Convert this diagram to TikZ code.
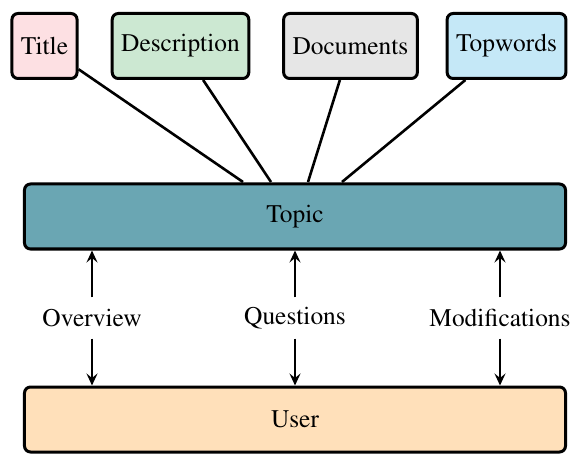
\documentclass[tikz,border=0pt]{standalone}
\usepackage[T1]{fontenc}
\usepackage{times}
\usetikzlibrary{arrows.meta}
\definecolor{cTitle}{HTML}{FDE0E3}
\definecolor{cDesc}{HTML}{CCE8D2}
\definecolor{cDoc}{HTML}{E6E6E6}
\definecolor{cTop}{HTML}{C5E8F7}
\definecolor{cTopic}{HTML}{6AA6B3}
\definecolor{cUser}{HTML}{FFE0BA}
\tikzset{
  tbox/.style={draw, line width=3bp, rounded corners=6bp, minimum height=65bp, inner xsep=9bp, inner ysep=0pt},
  wbox/.style={tbox, minimum width=541bp},
  lab/.style={inner sep=0pt, minimum height=41bp},
  link/.style={draw, line width=2.6bp},
  uarr/.style={draw, line width=2.6bp, -{Stealth[length=12bp,width=11bp,inset=4.5bp]}}
}
\begin{document}
\begin{tikzpicture}[x=1bp,y=-1bp]
\tikzset{every node/.style={font=\fontsize{25.5}{30}\selectfont}}
\useasboundingbox (0,0) rectangle (574,454);
\node[tbox, fill=cTitle] (title) at (44.5,46) {Title};
\node[tbox, fill=cDesc] (desc) at (180.5,46) {Description};
\node[tbox, fill=cDoc] (docs) at (350.5,46) {Documents};
\node[tbox, fill=cTop] (topw) at (506.5,46) {Topwords};
\node[wbox, fill=cTopic] (topic) at (295,216.5) {Topic};
\node[wbox, fill=cUser] (user) at (295,419.5) {User};
\coordinate (c1) at (243,182);
\coordinate (c2) at (271,182);
\coordinate (c3) at (308,182);
\coordinate (c4) at (342,182);
\path[link] (c1) -- (title);
\path[link] (c2) -- (desc);
\path[link] (c3) -- (docs);
\path[link] (c4) -- (topw);
\node[lab] (ov) at (92,318) {Overview};
\node[lab] (qu) at (295,318) {Questions};
\node[lab] (mo) at (500,318) {Modifications};
\path[uarr] (ov.north) -- (ov.north |- topic.south);
\path[uarr] (ov.south) -- (ov.south |- user.north);
\path[uarr] (qu.north) -- (qu.north |- topic.south);
\path[uarr] (qu.south) -- (qu.south |- user.north);
\path[uarr] (mo.north) -- (mo.north |- topic.south);
\path[uarr] (mo.south) -- (mo.south |- user.north);
\end{tikzpicture}
\end{document}
